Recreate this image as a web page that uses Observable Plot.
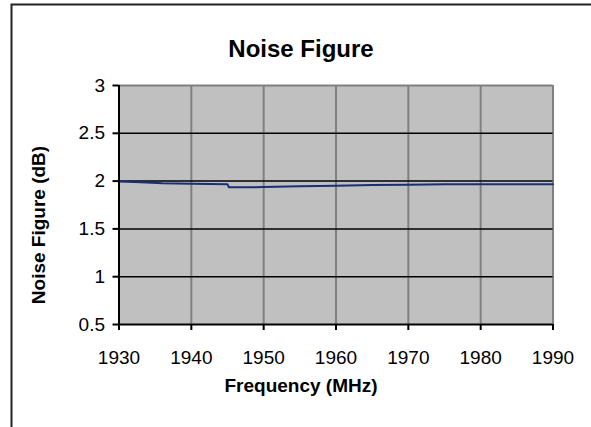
<!DOCTYPE html>
<html>
<head>
<meta charset="utf-8">
<script src="https://cdn.jsdelivr.net/npm/d3@7"></script>
<script src="https://cdn.jsdelivr.net/npm/@observablehq/plot@0.6"></script>
<style>
  html, body { margin: 0; padding: 0; background: #fff; }
  #chart svg { display: block; }
</style>
</head>
<body>
<div id="chart"></div>
<script>
const frequency = [1930, 1933, 1936, 1940, 1945, 1945.2, 1950, 1955, 1960, 1965, 1970, 1975, 1980, 1985, 1990];
const noiseFigure = [1.995, 1.988, 1.978, 1.972, 1.966, 1.936, 1.937, 1.945, 1.952, 1.958, 1.963, 1.966, 1.967, 1.968, 1.968];
const xTicks = [1930, 1940, 1950, 1960, 1970, 1980, 1990];
const yTicks = [0.5, 1, 1.5, 2, 2.5, 3];
const titleText = "Noise Figure";
const xTitle = "Frequency (MHz)";
const yTitle = "Noise Figure (dB)";

const data = frequency.map((f, i) => ({f, nf: noiseFigure[i]}));
const font = "'Liberation Sans', Arial, sans-serif";

const chart = Plot.plot({
  width: 591,
  height: 427,
  marginLeft: 118.5,
  marginRight: 38.5,
  marginTop: 85,
  marginBottom: 103,
  style: {fontFamily: font, fontSize: "19px", color: "#000", background: "#fff"},
  x: {domain: [1930, 1990], ticks: xTicks, tickFormat: d => String(d)},
  y: {domain: [0.5, 3], ticks: yTicks, tickFormat: d => String(d)},
  marks: [
    Plot.frame({fill: "#c0c0c0", stroke: null}),
    Plot.ruleX(xTicks.slice(1), {stroke: "#808080", strokeWidth: 2}),
    Plot.ruleY(yTicks.slice(1, -1), {stroke: "#000", strokeWidth: 1.5}),
    Plot.ruleY([3], {stroke: "#808080", strokeWidth: 2}),
    Plot.line(data, {x: "f", y: "nf", stroke: "#1a2f78", strokeWidth: 2}),
    Plot.ruleX([1930], {stroke: "#000", strokeWidth: 2}),
    Plot.ruleY([0.5], {stroke: "#000", strokeWidth: 2}),
    Plot.axisY({ticks: yTicks, tickFormat: d => String(d), tickSize: 6, tickPadding: 8, label: null, stroke: "#000", strokeWidth: 2, strokeOpacity: 1, fontSize: 19}),
    Plot.axisX({ticks: xTicks, tickFormat: d => String(d), tickSize: 6, tickPadding: 20, label: null, stroke: "#000", strokeWidth: 2, strokeOpacity: 1, fontSize: 19}),
    Plot.text([titleText], {frameAnchor: "top", dx: -35, dy: -46, fontSize: 24, fontWeight: "bold"}),
    Plot.text([xTitle], {frameAnchor: "bottom", dx: -35, dy: 67, fontSize: 19, fontWeight: "bold"}),
    Plot.text([yTitle], {frameAnchor: "left", textAnchor: "middle", dx: -80, dy: 20, rotate: -90, fontSize: 19, fontWeight: "bold"})
  ]
});

d3.select(chart).append("rect")
  .attr("x", 11.5).attr("y", 4.5)
  .attr("width", 800).attr("height", 800)
  .attr("fill", "none").attr("stroke", "#222").attr("stroke-width", 2);

document.getElementById("chart").appendChild(chart);
</script>
</body>
</html>
